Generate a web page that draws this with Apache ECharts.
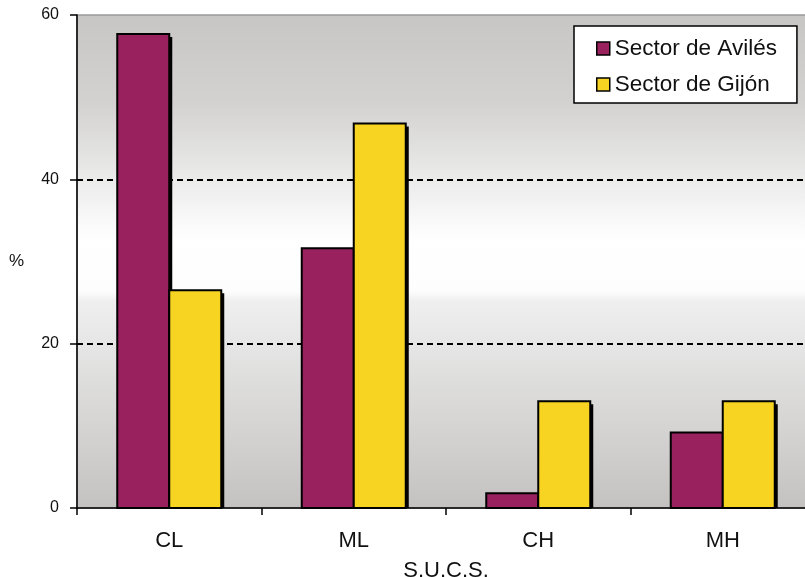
<!DOCTYPE html>
<html>
<head>
<meta charset="utf-8">
<script src="https://cdn.jsdelivr.net/npm/echarts@6/dist/echarts.min.js"></script>
<style>
html,body{margin:0;padding:0;background:#fff;}
#chart{width:805px;height:577px;}
</style>
</head>
<body>
<div id="chart"></div>
<script>
var categories = ['CL', 'ML', 'CH', 'MH'];
var seriesNames = ['Sector de Avilés', 'Sector de Gijón'];
var aviles = [57.7, 31.6, 1.8, 9.2];
var gijon = [26.5, 46.8, 13.0, 13.0];
var yTicks = [0, 20, 40, 60];

var FONT = '"Liberation Sans", Arial, sans-serif';
var BAR_W = 52;
var chart = echarts.init(document.getElementById('chart'));

function makeRender(slot, color) {
  return function (params, api) {
    var idx = api.value(0);
    var val = api.value(1);
    var base = api.coord([idx, 0]);
    var top = api.coord([idx, val]);
    var x = base[0] - BAR_W + slot * BAR_W;
    var y = top[1];
    var h = base[1] - top[1];
    return {
      type: 'group',
      children: [
        { type: 'rect', shape: { x: x + 3, y: y + 3, width: BAR_W, height: Math.max(h - 3, 0) },
          style: { fill: '#000' } },
        { type: 'rect', shape: { x: x, y: y, width: BAR_W, height: h },
          style: { fill: color, stroke: '#000', lineWidth: 2 } }
      ]
    };
  };
}

function toData(arr) {
  return arr.map(function (v, i) { return [i, v]; });
}

chart.setOption({
  animation: false,
  backgroundColor: '#fff',
  textStyle: { fontFamily: FONT },
  grid: {
    left: 77, top: 15, width: 738, height: 493,
    outerBoundsMode: 'none',
    containLabel: false,
    show: true,
    borderColor: '#9a9a9a',
    borderWidth: 1.5,
    backgroundColor: {
      type: 'linear', x: 0, y: 0, x2: 0, y2: 1,
      colorStops: [
        { offset: 0, color: '#c8c6c5' },
        { offset: 0.18, color: '#d3d2d1' },
        { offset: 0.40, color: '#f6f6f6' },
        { offset: 0.46, color: '#ffffff' },
        { offset: 0.56, color: '#fdfdfd' },
        { offset: 0.58, color: '#efefef' },
        { offset: 1, color: '#c4c2c1' }
      ]
    }
  },
  legend: {
    orient: 'vertical',
    left: 574, top: 26,
    padding: [11, 20, 7, 22],
    backgroundColor: '#fff',
    borderColor: '#000',
    borderWidth: 1.5,
    borderRadius: 0,
    itemWidth: 13, itemHeight: 13, itemGap: 13,
    itemStyle: { borderColor: '#000', borderWidth: 1.5 },
    textStyle: { fontSize: 22.5, lineHeight: 20, color: '#111', fontFamily: FONT },
    icon: 'rect',
    data: seriesNames
  },
  xAxis: {
    type: 'category',
    data: categories,
    name: 'S.U.C.S.',
    nameLocation: 'middle',
    nameGap: 52,
    nameTextStyle: { fontSize: 22, color: '#111', fontFamily: FONT },
    axisLine: { lineStyle: { color: '#000', width: 1.5 } },
    axisTick: { show: true, length: 7, lineStyle: { color: '#000', width: 1.5 } },
    axisLabel: { fontSize: 22, color: '#111', margin: 22, fontFamily: FONT },
    splitLine: { show: false }
  },
  yAxis: {
    type: 'value',
    min: yTicks[0], max: yTicks[yTicks.length - 1], interval: 20,
    name: '%',
    nameLocation: 'middle',
    nameRotate: 0,
    nameGap: 53,
    nameTextStyle: { fontSize: 17, color: '#111', fontFamily: FONT },
    axisLine: { show: true, lineStyle: { color: '#000', width: 1.5 } },
    axisTick: { show: true, length: 7, lineStyle: { color: '#000', width: 1.5 } },
    axisLabel: { fontSize: 16, color: '#111', margin: 18, fontFamily: FONT },
    splitLine: {
      show: true,
      lineStyle: { color: ['transparent', '#000', '#000', 'transparent'], width: 1.8, type: [6, 4] }
    }
  },
  series: [
    {
      name: seriesNames[0], type: 'custom', data: toData(aviles),
      encode: { x: 0, y: 1 },
      itemStyle: { color: '#98215e' },
      renderItem: makeRender(0, '#98215e'),
      z: 3
    },
    {
      name: seriesNames[1], type: 'custom', data: toData(gijon),
      encode: { x: 0, y: 1 },
      itemStyle: { color: '#f8d422' },
      renderItem: makeRender(1, '#f8d422'),
      z: 4
    }
  ]
});
</script>
</body>
</html>
